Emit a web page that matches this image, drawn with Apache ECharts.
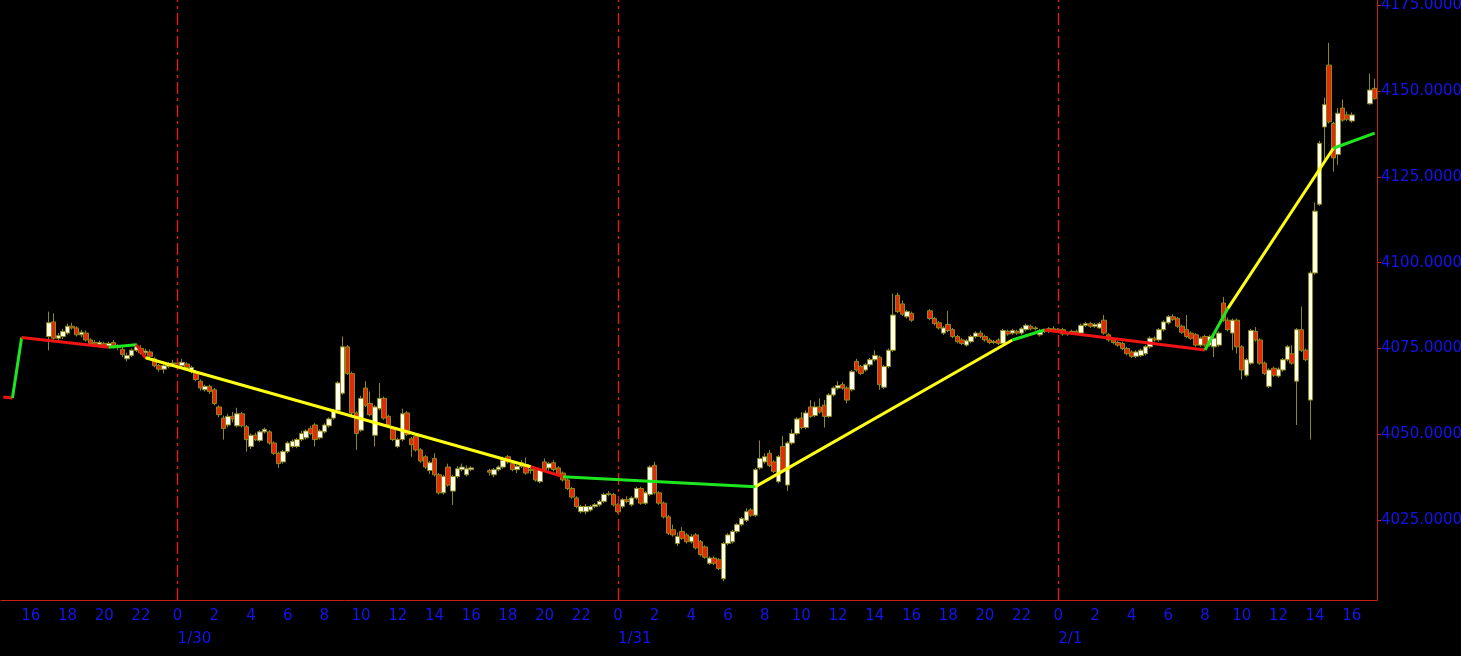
<!DOCTYPE html>
<html>
<head>
<meta charset="utf-8">
<script src="https://cdn.jsdelivr.net/npm/echarts@6/dist/echarts.min.js"></script>
<style>
html,body{margin:0;padding:0;background:#000;}
#chart{width:1461px;height:656px;}
</style>
</head>
<body>
<div id="chart"></div>
<script>
// ---- time slots (15-minute bars) ----
const slotStart = [2023, 0, 29, 14, 30];
const slotCount = 300;
const slotMinutes = 15;

// ---- OHLC bars, [open, close, low, high], one array per session ----
const session1Start = '1/29 17:00';
const session1 = [
[4078.5,4082.5,4074.5,4085.75],[4082.75,4078,4077.5,4085.25],[4078,4078.75,4077,4079.5],[4078.5,4080,4077.75,4080.75],
[4079.5,4081.5,4079,4082.25],[4081.5,4081,4080.5,4082.5],[4081,4079,4078.5,4081.5],[4079,4079.75,4078.25,4080.5],
[4079.5,4077.5,4077,4080.25],[4077.5,4076.5,4075.75,4078],[4076.75,4076.25,4075.5,4077.5],[4076.25,4076.75,4075.75,4077.25],
[4076.5,4075.75,4075.25,4077],[4075.75,4076.5,4075.25,4077],[4076.75,4075.5,4075,4077.5],[4075.5,4075.25,4074.5,4076.25],
[4074.75,4073.25,4072.5,4075.5],[4072,4073,4071.25,4073.75],[4073,4074.5,4072.5,4075],[4074.5,4075.5,4074,4076.5],
[4075,4073.75,4073.25,4076],[4073.75,4074.25,4073,4075],[4074,4072.75,4072.25,4074.75],[4072,4070,4069.5,4072.5],
[4070,4069,4068.25,4070.5],[4069,4070,4067.75,4070.5],[4069.75,4070.5,4069.25,4071],[4070.5,4070.75,4070,4071.75],
[4070.75,4070.5,4069.75,4071.5],[4070,4071,4069.5,4072],[4070.5,4069.5,4069,4071],[4068.25,4069.5,4067.75,4070],
[4068.25,4066,4065.5,4068.75],[4065.5,4063.5,4062.75,4066],[4063,4064,4062.5,4064.5],[4064,4062.5,4061.75,4064.5],
[4063,4059,4058.5,4063.5],[4058,4055.75,4055,4058.5],[4054.75,4051.75,4048.5,4055.5],[4052.75,4055.25,4052,4056],
[4055.25,4054.5,4053.5,4056.5],[4052.5,4056,4052,4057.75],[4056,4052.5,4052,4056.5],[4052.25,4048.5,4045,4052.75],
[4046.5,4049.75,4045.75,4050.25],[4049.75,4048.5,4048,4050.5],[4048.25,4050.75,4047.75,4051.25],[4050.75,4051.5,4050.25,4052],
[4050.75,4047.5,4047,4051.25],[4047.5,4044.5,4044,4048],[4044.5,4041.5,4040.25,4045],[4042,4045,4041.5,4045.5],
[4045,4047.5,4044.5,4048],[4046.5,4048,4046,4048.5],[4046.5,4048.5,4046,4049],[4048.5,4050.25,4048,4051],
[4049,4051,4048.5,4051.5],[4051.75,4050.25,4049.75,4052.5],[4052.75,4048.5,4046.5,4053.25],[4049,4051,4048.5,4051.5],
[4050.75,4052.75,4050.25,4053.25],[4052.5,4054.5,4052,4055],[4054.75,4057,4054.25,4057.5],[4057,4065,4056.5,4065.5],
[4062,4075.5,4061.5,4078.5],[4075.5,4067.75,4067.25,4076],[4067.75,4056.25,4055.5,4068.25],[4056.25,4050.25,4045.5,4056.75],
[4051.25,4060.5,4050.75,4061.25],[4063.5,4058.5,4058,4065.5],[4059,4055.75,4055.25,4062.5],[4049.75,4058,4046.5,4058.5],
[4057.5,4060.5,4057,4065],[4060.5,4054.75,4054.25,4061],[4055.25,4052.75,4052.25,4055.75],[4051.75,4048.5,4048,4052.25],
[4046.5,4048.5,4046,4049],[4048.5,4056,4048,4057.5],[4056.25,4050,4049.5,4056.75],[4048.75,4047,4043.5,4049.25],
[4049.5,4045.5,4045,4050],[4045.5,4042.25,4041.75,4046],[4043.5,4040.5,4040,4044],[4039.5,4041.75,4038.5,4042.25],
[4043,4038.25,4037.75,4044.5],[4038.25,4033,4032.5,4038.75],[4033,4037.75,4032.5,4038.25],[4040.5,4035.25,4034.75,4041.5],
[4033.5,4037.75,4029.5,4038.25],[4037.75,4040,4037.25,4040.75],[4039.75,4040.5,4039.25,4041.5],[4038.25,4040,4037.75,4041],
[4039.75,4040.25,4039.25,4040.75]
];

const session2Start = '1/30 17:00';
const session2 = [
[4039.5,4039,4038,4040],[4038.25,4039.75,4037.5,4040.25],[4039.75,4040.5,4039.25,4041],[4040.5,4042.5,4040,4043.5],
[4043.5,4042,4041.5,4044],[4041.5,4039.75,4039.25,4042],[4039.75,4040.75,4038.75,4041.25],[4040.75,4041.75,4040.25,4042.5],
[4041.25,4038.75,4038.25,4043.25],[4039.5,4039.75,4038.5,4041],[4039.75,4036.75,4036.25,4040.25],[4036.25,4039.75,4035.75,4040.25],
[4042,4039.75,4039.25,4043],[4040.25,4041.5,4039.5,4042],[4041.75,4039.75,4039.25,4042.5],[4040.25,4038.25,4037.75,4040.75],
[4038.75,4036.75,4036.25,4039.25],[4036.75,4034.25,4033.75,4037.25],[4034.25,4031.75,4031.25,4034.75],[4031.5,4029,4028.5,4032],
[4027.5,4029,4027,4029.5],[4027.5,4029,4026.75,4029.75],[4028,4029,4027.5,4029.5],[4029,4029.5,4028.5,4030],
[4029.5,4030.5,4029,4031],[4030.5,4032.5,4030,4033],[4032.5,4032.75,4032,4033.5],[4032.5,4029.5,4029,4033],
[4029.5,4027.5,4027,4030],[4029,4031,4028.5,4031.5],[4031,4030.5,4030,4032],[4029.5,4031.5,4029,4032],
[4031.5,4034.25,4031,4034.75],[4034.25,4030,4029.5,4034.75],[4030,4033,4029.5,4033.5],[4032.5,4040.5,4032,4041],
[4041,4033,4032.5,4042],[4033,4030,4029.5,4033.5],[4030,4026,4025.5,4030.5],[4026,4021.25,4020.75,4026.5],
[4022.25,4020.75,4020.25,4023.75],[4018.25,4020.25,4017.5,4021.5],[4021.75,4019.75,4019.25,4023],[4020.75,4018.75,4018.25,4021.25],
[4018.75,4020.25,4018.25,4021],[4020.75,4017,4016.5,4021.25],[4018.75,4015,4014.5,4019.25],[4017.25,4014.25,4013.75,4017.75],
[4012.5,4014,4012,4014.5],[4014,4012.5,4012,4014.5],[4013.5,4011,4010.5,4014],[4008,4018.25,4007.25,4018.75],
[4018.25,4020.75,4017.75,4021.25],[4018.75,4021.75,4018.25,4022.25],[4021.75,4023.75,4021.25,4024.25],[4023.75,4025.5,4023.25,4026],
[4025,4027.5,4024.5,4028.5],[4028,4026.5,4026,4028.5],[4026.5,4039.75,4026,4040.25],[4040.25,4043,4039.75,4048.25],
[4042,4043.5,4041.5,4044.5],[4044.5,4041,4040.5,4045.5],[4042,4039.25,4038.75,4042.5],[4036.25,4043.5,4035.75,4044],
[4046.5,4039.25,4038.75,4049.5],[4035.25,4047.5,4033.5,4048],[4047.5,4050.25,4047,4051.5],[4050.25,4054.5,4049.75,4055],
[4054.75,4052,4051.5,4056.5],[4052,4056.25,4051.5,4057],[4058,4055.25,4054.75,4060],[4055.5,4058,4055,4059.5],
[4058,4056.5,4056,4060.5],[4058.5,4055.25,4052,4060],[4055.25,4061.5,4054.75,4062],[4061.5,4063.5,4061,4064],
[4063.5,4064.25,4063,4065.5],[4064.5,4063.5,4063,4065.25],[4063.5,4060,4059,4064],[4063,4068.25,4062.5,4068.75],
[4071.25,4068.75,4068.25,4072],[4069.75,4067.75,4067.25,4070.25],[4068.75,4070.25,4068.25,4070.75],[4070.25,4071.75,4069.75,4072.25],
[4071.75,4073,4071.25,4074.5],[4072.5,4064.5,4063,4073],[4063.75,4069.75,4063.25,4070.25],[4069.75,4074.5,4069.25,4075],
[4074.5,4084.75,4074,4091],[4090.5,4085.75,4085.25,4091.25],[4088,4085,4084.5,4089],[4084.25,4085.75,4083.75,4086.25],
[4085.25,4083.25,4082.75,4085.75]
];

const session3Start = '1/31 17:00';
const session3 = [
[4086,4083.75,4083.25,4086.5],[4083.75,4082.25,4081.75,4084.25],[4082.5,4081,4080.5,4083],[4079.5,4081,4079,4081.5],
[4082,4080.25,4079.75,4086],[4080.5,4078.5,4078,4081],[4078.5,4077,4076.5,4079],[4077.5,4076.5,4076,4078],
[4076,4077.25,4075.5,4077.75],[4077,4078.5,4076.5,4079],[4078.5,4079.5,4078,4080],[4079.5,4078.5,4078,4080.25],
[4078.5,4077.5,4077,4079],[4077.5,4076.75,4076.25,4078],[4076.75,4077,4076.25,4077.5],[4077.5,4076.5,4076,4078],
[4076.5,4080.25,4076,4080.75],[4080,4079.25,4078.75,4080.5],[4079.5,4080.25,4079,4080.75],[4080,4079.5,4079,4080.5],
[4079.5,4080.75,4079,4081.25],[4080.5,4081.75,4080,4082.25],[4081.5,4080.75,4080.25,4082],[4080.75,4081,4080.25,4081.5],
[4079,4080.25,4078.5,4080.75],[4080.25,4080,4079.5,4080.75],[4080,4080.75,4079.5,4081.25],[4080.75,4080.25,4079.75,4081.5],
[4080.25,4080.5,4079.75,4081],[4080.5,4079.25,4078.75,4081],[4079.25,4079.5,4078.75,4080],[4079.5,4080,4079,4080.5],
[4080,4079.5,4079,4080.5],[4079.5,4081.75,4079,4082.25],[4081.75,4082.25,4081.25,4082.75],[4082.25,4081.5,4081,4082.75],
[4081.5,4082,4081,4082.5],[4081,4082.25,4080.75,4082.75],[4083.25,4079.5,4079,4084.75],[4079,4077.5,4077,4079.5],
[4077.5,4076.75,4076.25,4078],[4076.75,4076,4075.5,4077.25],[4076.5,4075,4074.5,4077],[4075,4073.5,4073,4075.5],
[4074,4072.75,4072.25,4074.5],[4072.75,4074,4072.25,4074.5],[4073,4074.5,4072.5,4075],[4073.5,4075.5,4073,4076],
[4075.5,4078,4075,4078.5],[4078,4077.5,4077,4078.5],[4077.5,4080.5,4077,4081],[4080.5,4082.75,4080,4083.25],
[4082.5,4084.25,4082,4084.75],[4084.25,4083.5,4083,4085],[4083.75,4081.5,4081,4084.25],[4081.5,4079.75,4079.25,4082],
[4080.5,4078.5,4078,4084.75],[4079.5,4078,4077.5,4080],[4079,4076,4075.5,4079.5],[4076,4078,4075.5,4078.5],
[4078.5,4076,4075.5,4079],[4076,4078.5,4075.5,4079],[4075.5,4078,4072.5,4078.5],[4076,4079.5,4075.5,4080],
[4088.25,4083.25,4082.75,4090],[4083.25,4080.5,4080,4084],[4079.5,4083.25,4074.5,4083.75],[4083.25,4075.5,4073.5,4083.75],
[4075.5,4068.75,4066,4076],[4067.25,4071.75,4066.75,4072.25],[4070.75,4080.25,4070.25,4080.75],[4080,4077.5,4077,4081.25],
[4077.5,4070.75,4070.25,4078],[4070.75,4067.75,4067.25,4071.25],[4064,4068.75,4063.5,4069.25],[4069.25,4067.25,4066.75,4069.75],
[4067,4069,4066.5,4069.5],[4068.75,4071.75,4068.25,4072.25],[4071.75,4075.5,4071.25,4076],[4073.5,4070.75,4070.25,4076],
[4065.5,4080.5,4052.75,4081],[4080.5,4074.5,4074,4087.25],[4074.5,4071.75,4071.25,4075],[4060,4097,4048.5,4097.5],
[4097,4115,4096.5,4117.5],[4117,4134.75,4116.5,4135.5],[4139.5,4146,4130,4148],[4157.5,4141,4140.5,4164],
[4140.5,4130.5,4126.5,4141],[4131.5,4143.5,4128.5,4145],[4145,4141.5,4141,4147.5],[4143,4141.75,4141.25,4144],
[4141.25,4143,4140.75,4143.75]
];

const session4Start = '2/1 17:00';
const session4 = [
[4146.25,4150.25,4146,4155],[4150.75,4147.75,4147.5,4153.5]
];

// ---- trend overlay: vertices and segment states ----
const trendTimes = ['1/29 14:30','1/29 15:00','1/29 15:30','1/29 20:15','1/29 21:45','1/29 22:15',
  '1/30 19:15','1/30 21:00','1/31 07:30','1/31 21:30','1/31 23:15','2/1 08:00','2/1 09:15','2/1 15:00','2/1 17:15'];
const trendValues = [4060.9,4060.6,4078.2,4075.4,4076.1,4072.3,4040.6,4037.7,4034.8,4077.5,4080.4,4074.6,4086.7,4133.3,4137.7];
const trendStates = ['down','up','down','up','down','flat','down','up','flat','up','down','up','flat','up'];

// ---- axis labels ----
const yTicks = [4025, 4050, 4075, 4100, 4125, 4150, 4175];
const dayBreaks = ['1/30 00:00', '1/31 00:00', '2/1 00:00'];

// ---- build ----
function pad(n){ return (n < 10 ? '0' : '') + n; }
const t0 = new Date(slotStart[0], slotStart[1], slotStart[2], slotStart[3], slotStart[4]).getTime();
const categories = [];
for (let i = 0; i < slotCount; i++) {
  const d = new Date(t0 + i * slotMinutes * 60000);
  categories.push((d.getMonth() + 1) + '/' + d.getDate() + ' ' + pad(d.getHours()) + ':' + pad(d.getMinutes()));
}
const idx = name => categories.indexOf(name);

const ohlc = categories.map(() => ['-', '-', '-', '-']);
[[session1Start, session1], [session2Start, session2], [session3Start, session3], [session4Start, session4]]
  .forEach(([s, bars]) => { const k = idx(s); bars.forEach((b, j) => { ohlc[k + j] = b; }); });

const stateColor = { down: '#f01414', up: '#1ee61e', flat: '#ffff14' };
const trendSeries = [];
for (let k = 0; k < trendStates.length; k++) {
  trendSeries.push({
    type: 'line', xAxisIndex: 0, yAxisIndex: 0, symbol: 'none', silent: true, z: 5,
    lineStyle: { color: stateColor[trendStates[k]], width: 3 },
    data: [[idx(trendTimes[k]), trendValues[k]], [idx(trendTimes[k + 1]), trendValues[k + 1]]]
  });
}

const parts = s => { const [md, hm] = s.split(' '); const [h, m] = hm.split(':'); return { md, h: +h, m: +m }; };
const FONT = '"DejaVu Sans", Verdana, sans-serif';
const FS = 15;
const BLUE = '#1414f0';
const AXISRED = '#c81e1e';

const chart = echarts.init(document.getElementById('chart'), null, { renderer: 'canvas' });
chart.setOption({
  backgroundColor: '#000',
  animation: false,
  grid: { left: 1, top: 0, width: 1376, height: 600, containLabel: false, outerBoundsMode: 'none' },
  xAxis: [{
    type: 'category', data: categories, boundaryGap: true, position: 'bottom',
    axisLine: { lineStyle: { color: AXISRED, width: 1 } },
    axisTick: { alignWithLabel: true, length: 4, lineStyle: { color: AXISRED },
      interval: (i, v) => parts(v).m === 0 },
    axisLabel: { color: BLUE, fontFamily: FONT, fontSize: FS, margin: 9,
      interval: (i, v) => { const p = parts(v); return p.m === 0 && p.h % 2 === 0; },
      formatter: v => String(parts(v).h) },
    splitLine: { show: false }
  }, {
    type: 'category', data: categories, boundaryGap: true, position: 'bottom', gridIndex: 0,
    axisLine: { show: false }, axisTick: { show: false },
    axisLabel: { color: BLUE, fontFamily: FONT, fontSize: FS, margin: 32, align: 'left',
      interval: (i, v) => { const p = parts(v); return p.m === 0 && p.h === 0; },
      formatter: v => parts(v).md },
    splitLine: { show: false }
  }],
  yAxis: {
    type: 'value', position: 'right', min: 4001.8, max: 4176.46, scale: true,
    axisLine: { show: true, lineStyle: { color: AXISRED, width: 1 } },
    axisTick: { show: true, length: 4, lineStyle: { color: AXISRED }, customValues: yTicks },
    axisLabel: { color: BLUE, fontFamily: FONT, fontSize: FS, margin: 4, customValues: yTicks,
      formatter: v => v.toFixed(4) },
    splitLine: { show: false }
  },
  series: [{
    type: 'candlestick', xAxisIndex: 0, yAxisIndex: 0, barWidth: 5, z: 3,
    data: ohlc,
    itemStyle: { color: '#fffff0', color0: '#e42808', borderColor: '#8e8a1a', borderColor0: '#8e8a1a', borderWidth: 1 },
    markLine: {
      silent: true, symbol: 'none', label: { show: false }, animation: false,
      lineStyle: { color: '#e01c1c', width: 1.4, type: [12, 4, 3, 4] },
      data: dayBreaks.map(d => ({ xAxis: idx(d) }))
    }
  }].concat(trendSeries)
});
</script>
</body>
</html>
